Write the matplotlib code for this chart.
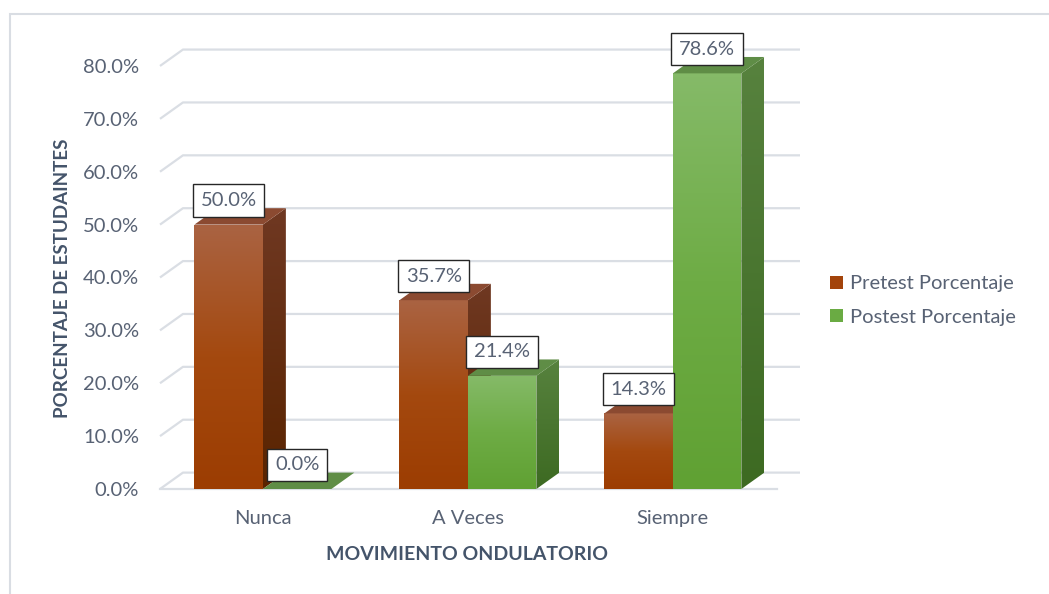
import numpy as np
import matplotlib
matplotlib.use("Agg")
import matplotlib.pyplot as plt
from matplotlib.patches import Polygon, Rectangle, Patch
from matplotlib.colors import LinearSegmentedColormap

plt.rcParams['font.family'] = ['Lato', 'DejaVu Sans']

# data
categorias = ["Nunca", "A Veces", "Siempre"]
pretest = [50.0, 35.7, 14.3]
postest = [0.0, 21.4, 78.6]
series_names = ["Pretest Porcentaje", "Postest Porcentaje"]
y_ticks = [0, 10, 20, 30, 40, 50, 60, 70, 80]

txt_col = "#586274"
title_col = "#44546a"
grid_col = "#dadee4"
fs = 14.5

# colours per series: front (bottom, mid, top), side (top, bottom), top face
estilos = [
    dict(front=["#9c3d02", "#a4490f", "#aa6342"], side=["#6f3822", "#5a2400"], top="#8b4a31", leg="#a3440b"),
    dict(front=["#60a133", "#6eac45", "#85ba68"], side=["#57823e", "#3d6a22"], top="#5f8d46", leg="#6aab43"),
]

W, H = 1049, 594
fig = plt.figure(figsize=(W / 100, H / 100), dpi=100)
# axes placed so that the front floor sits where the reference has it
ax = fig.add_axes([160 / W, (H - 489) / H, 640 / W, 459 / H])
xmin, xmax = -0.502, 2.62
ymin, ymax = 0, 86.8
dx, dy = 0.112, 3.1   # depth of the 3d effect in data units
bw = 0.334            # bar width

# chart border
fig.add_artist(Rectangle((10 / W, -0.1), 1.2, 1.1 - 14 / H, transform=fig.transFigure,
                         fill=False, ec="#d9dde3", lw=1.5))

# back wall gridlines + floor diagonal
for t in y_ticks:
    ax.plot([xmin, xmin + dx, xmax], [t, t + dy, t + dy], color=grid_col, lw=1.6, zorder=1,
            clip_on=False, solid_capstyle='butt')
ax.plot([xmin, 2.507], [0, 0], color=grid_col, lw=1.6, zorder=1, clip_on=False)


def grad_poly(verts, colors, z):
    poly = Polygon(verts, closed=True, fc='none', ec='none')
    ax.add_patch(poly)
    xs = [v[0] for v in verts]
    ys = [v[1] for v in verts]
    cmap = LinearSegmentedColormap.from_list("g", colors)
    im = ax.imshow(np.linspace(0, 1, 100).reshape(-1, 1), cmap=cmap, origin='lower',
                   extent=[min(xs), max(xs), min(ys), max(ys) + 1e-6], aspect='auto',
                   interpolation='bilinear', zorder=z)
    im.set_clip_path(poly)
    im.set_clip_on(True)


z = 2
for i in range(len(categorias)):
    for s, vals in enumerate([pretest, postest]):
        v = vals[i]
        x0 = i - bw + s * bw
        x1 = x0 + bw
        st = estilos[s]
        if v > 0:
            # side face
            grad_poly([(x1, 0), (x1 + dx, dy), (x1 + dx, v + dy), (x1, v)],
                      st["side"][::-1], z)
            # front face
            grad_poly([(x0, 0), (x1, 0), (x1, v), (x0, v)], st["front"], z + 0.1)
        # top face
        ax.add_patch(Polygon([(x0, v), (x1, v), (x1 + dx, v + dy), (x0 + dx, v + dy)],
                             closed=True, fc=st["top"], ec='none', zorder=z + 0.2))
        z += 1
        ax.text((x0 + x1) / 2, v + 4.55, f"{v:.1f}%", ha='center', va='center',
                fontsize=fs, color=txt_col, zorder=50,
                bbox=dict(boxstyle='square,pad=0.38', fc='white', ec='#262626', lw=1))

ax.set_xlim(xmin, xmax)
ax.set_ylim(ymin, ymax)
ax.set_xticks(range(len(categorias)))
ax.set_xticklabels(categorias)
ax.set_yticks(y_ticks)
ax.set_yticklabels([f"{t:.1f}%" for t in y_ticks])
ax.tick_params(axis='x', length=0, pad=15, labelsize=fs, labelcolor=txt_col)
ax.tick_params(axis='y', length=0, pad=15, labelsize=fs, labelcolor=txt_col)
for sp in ax.spines.values():
    sp.set_visible(False)
ax.patch.set_visible(False)

fig.text(467 / W, 1 - 555 / H, "MOVIMIENTO ONDULATORIO", ha='center', va='center',
         fontsize=14, fontweight='bold', color=title_col)
fig.text(63 / W, 1 - 278 / H, "PORCENTAJE DE ESTUDAINTES", ha='center', va='center',
         rotation=90, fontsize=13.5, fontweight='bold', color=title_col)

handles = [Patch(fc=estilos[k]["leg"], ec='none') for k in range(2)]
fig.legend(handles, series_names, loc='center left', bbox_to_anchor=(812 / W, 1 - 300.5 / H),
           frameon=False, fontsize=fs, labelcolor=txt_col, handlelength=0.65, handleheight=0.65,
           handletextpad=0.35, labelspacing=0.8)

fig.savefig("out.png", dpi=100)
